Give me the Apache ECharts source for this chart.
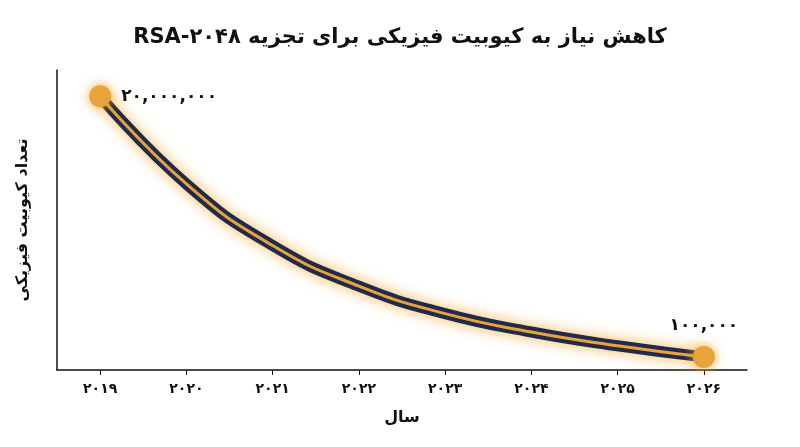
<!DOCTYPE html>
<html><head><meta charset="utf-8">
<script src="https://cdn.jsdelivr.net/npm/echarts@6/dist/echarts.min.js"></script>
<style>html,body{margin:0;background:#fff}#c{width:800px;height:447px}</style>
</head><body><div id="c"></div>
<script>
const years = ['۲۰۱۹','۲۰۲۰','۲۰۲۱','۲۰۲۲','۲۰۲۳','۲۰۲۴','۲۰۲۵','۲۰۲۶'];
const qubits = [20000000, 13300000, 8600000, 5500000, 3400000, 2000000, 950000, 100000];
const endLabels = ['۲۰,۰۰۰,۰۰۰', '۱۰۰,۰۰۰'];
const titleText = 'RSA-۲۰۴۸ کاهش نیاز به کیوبیت فیزیکی برای تجزیه';
const font = '"DejaVu Sans", sans-serif';
const chart = echarts.init(document.getElementById('c'));
chart.setOption({
  animation:false,
  title:{text:titleText,left:'center',top:22,
    textStyle:{fontFamily:font,fontWeight:'bold',fontSize:21,color:'#111'}},
  grid:{left:57,right:53,top:70,bottom:77},
  xAxis:{type:'category',data:years,boundaryGap:true,
    name:'سال',nameLocation:'middle',nameGap:40,
    nameTextStyle:{fontFamily:font,fontWeight:'bold',fontSize:16,color:'#111'},
    axisLine:{onZero:false,lineStyle:{color:'#111',width:1.5}},
    axisTick:{show:true,alignWithLabel:true,lineStyle:{color:'#111'}},
    axisLabel:{fontFamily:font,fontWeight:'bold',fontSize:14,color:'#111',margin:12}},
  yAxis:{type:'value',min:-900000,max:22000000,
    name:'تعداد کیوبیت فیزیکی',nameLocation:'middle',nameGap:26,nameRotate:90,
    nameTextStyle:{fontFamily:font,fontWeight:'bold',fontSize:16,color:'#111'},
    axisLine:{show:true,lineStyle:{color:'#111',width:1.5}},
    axisTick:{show:false},axisLabel:{show:false},splitLine:{show:false}},
  series:[
    {type:'line',data:qubits,smooth:0.5,symbol:'none',
     lineStyle:{color:'#1f2a4d',width:11,shadowColor:'rgba(245,165,40,0.8)',shadowBlur:14},z:2},
    {type:'line',data:qubits,smooth:0.5,symbol:'none',
     lineStyle:{color:'#e8a33a',width:3},z:3},
    {type:'line',symbol:'circle',symbolSize:22,lineStyle:{width:0},
     itemStyle:{color:'#e8a33a',shadowColor:'rgba(245,165,40,0.9)',shadowBlur:12},z:4,
     label:{show:true,fontFamily:font,fontWeight:'bold',fontSize:17,color:'#111',
       formatter:p=> p.dataIndex===0?endLabels[0]:endLabels[1]},
     data: qubits.map((v,i)=>{
       if(i===0) return {value:v,label:{position:'right',distance:10}};
       if(i===qubits.length-1) return {value:v,label:{position:'top',distance:12}};
       return '-';
     })}
  ]
});
</script></body></html>
